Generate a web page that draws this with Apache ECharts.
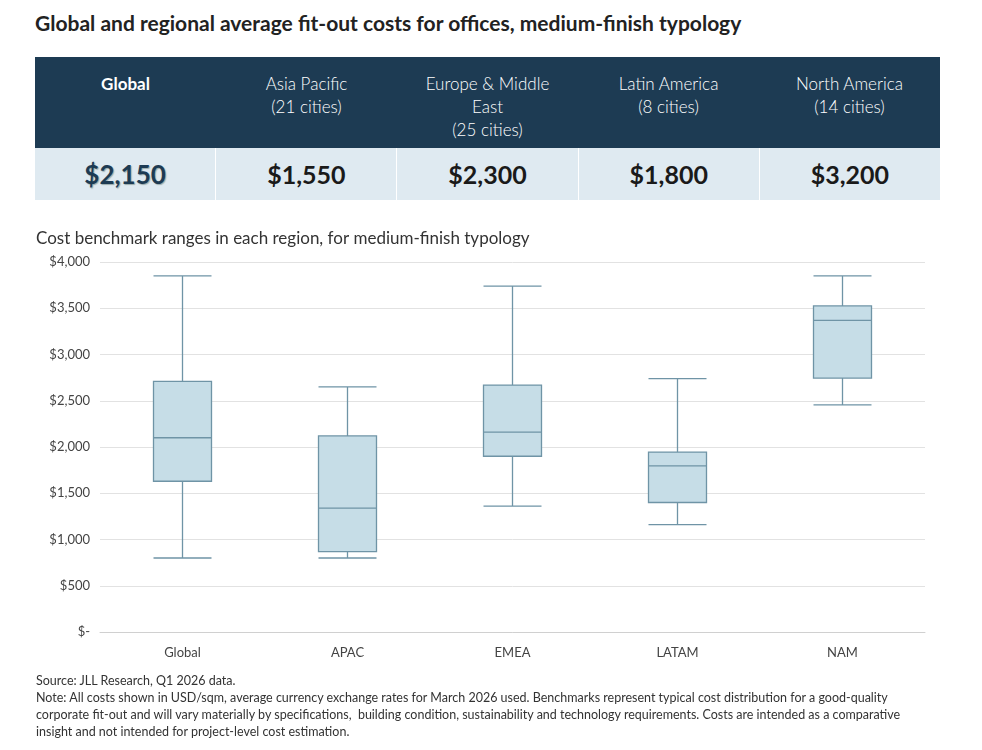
<!DOCTYPE html>
<html>
<head>
<meta charset="utf-8">
<title>Fit-out costs</title>
<script src="https://cdn.jsdelivr.net/npm/echarts@6/dist/echarts.min.js"></script>
<style>
  body { margin: 0; width: 982px; height: 750px; background: #fff; font-family: Lato, "Open Sans", sans-serif; color: #222; position: relative; overflow: hidden; }
  #title { position: absolute; left: 35px; top: 10px; font-size: 21px; font-weight: bold; color: #222; }
  #tbl { position: absolute; left: 35px; top: 57px; width: 905px; }
  .row { display: flex; }
  .head { background: #1d3b53; height: 91px; color: #fff; }
  .vals { background: #dfeaf1; height: 52px; }
  .cell { flex: 1; text-align: center; font-size: 17px; line-height: 23px; padding-top: 15px; font-weight: 300; }
  .cell.b { font-weight: bold; }
  .vcell { flex: 1; text-align: center; font-size: 25px; font-weight: bold; line-height: 52px; color: #1a1a1a; border-left: 1px solid #fff; }
  .vcell:first-child { border-left: none; color: #1d3b53; text-shadow: 1px 1px 1px #9aa; font-size: 26px; }
  #chart { position: absolute; left: 0; top: 220px; width: 982px; height: 455px; }
  #notes { position: absolute; left: 36px; top: 672px; width: 885px; font-size: 12.5px; line-height: 17px; color: #333; }
</style>
</head>
<body>
<div id="title">Global and regional average fit-out costs for offices, medium-finish typology</div>
<div id="tbl">
  <div class="row head" id="headRow"></div>
  <div class="row vals" id="valRow"></div>
</div>
<div id="chart"></div>
<div id="notes">Source: JLL Research, Q1 2026 data.<br>Note: All costs shown in USD/sqm, average currency exchange rates for March 2026 used. Benchmarks represent typical cost distribution for a good-quality corporate fit-out and will vary materially by specifications,&nbsp; building condition, sustainability and technology requirements. Costs are intended as a comparative insight and not intended for project-level cost estimation.</div>
<script>
// table
var regionNames = ['Global', 'Asia Pacific<br>(21 cities)', 'Europe &amp; Middle<br>East<br>(25 cities)', 'Latin America<br>(8 cities)', 'North America<br>(14 cities)'];
var regionAverages = ['$2,150', '$1,550', '$2,300', '$1,800', '$3,200'];
// box plot: [min, Q1, median, Q3, max]
var categories = ['Global', 'APAC', 'EMEA', 'LATAM', 'NAM'];
var boxValues = [
  [800, 1630, 2100, 2710, 3850],
  [800, 870, 1340, 2120, 2650],
  [1360, 1900, 2160, 2670, 3740],
  [1160, 1400, 1795, 1945, 2740],
  [2455, 2745, 3370, 3525, 3850]
];

document.getElementById('headRow').innerHTML = regionNames.map(function (n, i) {
  return '<div class="cell' + (i === 0 ? ' b' : '') + '">' + n + '</div>';
}).join('');
document.getElementById('valRow').innerHTML = regionAverages.map(function (v) {
  return '<div class="vcell">' + v + '</div>';
}).join('');

var chart = echarts.init(document.getElementById('chart'));
chart.setOption({
  animation: false,
  textStyle: { fontFamily: 'Lato, "Open Sans", sans-serif' },
  title: {
    text: 'Cost benchmark ranges in each region, for medium-finish typology',
    left: 31, top: 5,
    textStyle: { fontSize: 17, fontWeight: 'normal', color: '#333' }
  },
  grid: { left: 100, right: 57, top: 42, bottom: 43 },
  xAxis: {
    type: 'category',
    data: categories,
    axisLine: { lineStyle: { color: '#d0d0d0' } },
    axisTick: { show: false },
    axisLabel: { color: '#444', fontSize: 13, margin: 14 }
  },
  yAxis: {
    type: 'value',
    min: 0, max: 4000, interval: 500,
    axisLine: { show: false },
    axisTick: { show: false },
    splitLine: { lineStyle: { color: '#e2e2e2' } },
    axisLabel: {
      color: '#444', fontSize: 13, margin: 10,
      formatter: function (v) { return v === 0 ? '$-' : '$' + v.toLocaleString('en-US'); }
    }
  },
  series: [{
    type: 'boxplot',
    data: boxValues,
    boxWidth: [58, 58],
    itemStyle: { color: '#c6dde7', borderColor: '#6f94a6', borderWidth: 1.3 }
  }]
});
</script>
</body>
</html>
